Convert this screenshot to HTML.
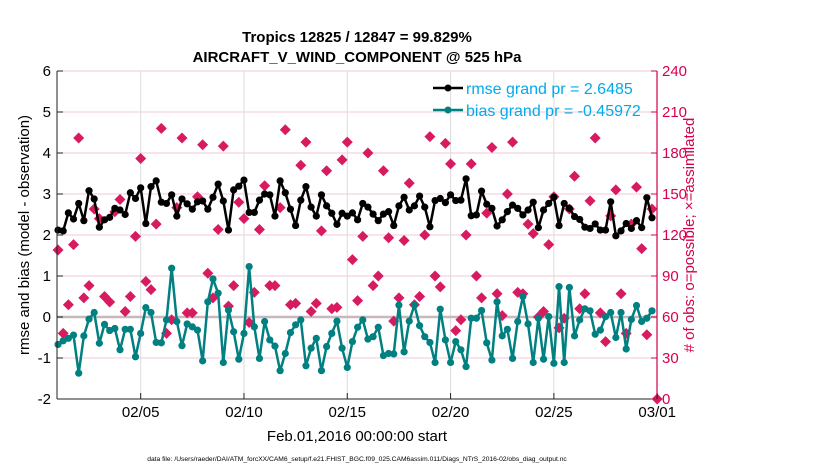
<!DOCTYPE html>
<html><head><meta charset="utf-8"><style>
body{margin:0;background:#fff}
svg{display:block;font-family:"Liberation Sans",Arial,sans-serif}
</style></head><body>
<svg id="chart" width="830" height="470" viewBox="0 0 830 470">
<rect width="830" height="470" fill="#fff"/>
<g id="grid"></g><g id="series"></g><g id="axes"></g>
<text x="357" y="42" text-anchor="middle" font-size="15" font-weight="bold">Tropics 12825 / 12847 = 99.829%</text>
<text x="357" y="62" text-anchor="middle" font-size="15" font-weight="bold">AIRCRAFT_V_WIND_COMPONENT @ 525 hPa</text>
<text x="357" y="441" text-anchor="middle" font-size="15">Feb.01,2016 00:00:00 start</text>
<text x="357" y="461" text-anchor="middle" font-size="6.7">data file: /Users/raeder/DAI/ATM_forcXX/CAM6_setup/f.e21.FHIST_BGC.f09_025.CAM6assim.011/Diags_NTrS_2016-02/obs_diag_output.nc</text>
<text transform="translate(29,235) rotate(-90)" text-anchor="middle" font-size="15">rmse and bias (model - observation)</text>
<text transform="translate(694,235) rotate(-90)" text-anchor="middle" font-size="15" fill="#d6004f"># of obs: o=possible; ×=assimilated</text>
<g>
<line x1="433" y1="88" x2="463" y2="88" stroke="#000" stroke-width="2.5"/><circle cx="448" cy="88" r="3.5" fill="#000"/>
<text x="466" y="94" font-size="16" fill="#00aaee">rmse grand pr = 2.6485</text>
<line x1="433" y1="110" x2="463" y2="110" stroke="#008080" stroke-width="2.5"/><circle cx="448" cy="110" r="3.5" fill="#008080"/>
<text x="466" y="116" font-size="16" fill="#00aaee">bias grand pr = -0.45972</text>
</g>
</svg>
<script>
const rmse=[2.12,2.10,2.54,2.39,2.77,2.35,3.08,2.88,2.19,2.37,2.43,2.65,2.61,2.50,3.03,2.89,3.15,2.28,3.18,3.32,2.80,2.77,2.98,2.46,2.88,2.76,2.63,2.81,2.83,2.63,2.92,3.24,2.83,2.12,3.10,3.19,3.34,2.55,2.55,2.85,3.00,
2.98,2.46,3.32,3.03,2.63,2.23,2.85,3.18,2.68,2.46,2.98,2.71,2.53,2.26,2.53,2.46,2.54,2.37,2.77,2.68,2.51,2.35,2.51,2.57,2.23,2.71,2.92,2.61,2.71,2.95,2.68,2.20,2.84,2.89,2.79,2.98,2.84,
2.85,3.37,2.47,2.49,3.07,2.75,2.65,2.22,2.37,2.57,2.73,2.65,2.49,2.61,2.80,2.18,2.61,2.77,2.92,2.23,2.77,2.65,2.45,2.38,2.19,2.16,2.27,2.12,2.12,2.81,1.98,2.10,2.28,2.16,2.35,2.18,2.91,2.42];
const bias=[-0.67,-0.58,-0.52,-0.44,-1.37,-0.46,-0.05,0.11,-0.64,-0.18,-0.33,-0.28,-0.80,-0.30,-0.30,-0.97,-0.40,0.23,0.11,-0.62,-0.63,-0.07,1.19,-0.11,-0.70,-0.17,-0.24,-0.32,-1.07,0.37,0.93,0.58,-1.11,0.17,-0.36,-1.03,-0.40,1.23,-0.24,-1.01,-0.11,
-0.56,-0.71,-1.31,-0.89,-0.38,-0.19,-0.07,-1.19,-0.76,-0.52,-1.31,-0.72,-0.40,-0.10,-0.76,-1.23,-0.60,-0.25,-0.07,-0.54,-0.48,-0.25,-0.94,-0.89,-0.90,0.29,-0.85,-0.10,0.29,-0.21,-0.48,-0.62,-1.11,0.19,-0.56,-1.11,-0.60,
-0.80,-1.21,-0.03,-0.03,0.16,-0.63,-1.05,0.37,-0.46,-0.30,-1.01,-0.11,0.50,-0.17,-1.11,-0.03,-1.03,0.01,-1.13,0.74,-1.11,0.72,-0.46,-0.07,0.20,0.15,-0.42,-0.32,0.01,0.11,-0.50,0.11,-0.78,-0.06,0.28,-0.11,-0.03,0.15];
const nobs=[109,48,69,113,191,74,83,139,132,75,71,137,146,64,75,119,176,86,80,128,198,48,58,140,191,63,63,148,186,92,74,124,185,68,83,144,132,56,78,124,156,
83,83,140,197,69,70,171,188,64,70,123,167,66,67,175,188,102,72,119,180,83,90,167,118,57,74,116,158,69,75,120,192,90,82,187,172,50,
58,120,172,90,74,136,184,77,61,150,188,78,77,128,121,60,64,113,148,52,59,139,163,66,77,145,191,63,42,134,153,77,48,128,155,110,47,139,0];
const xTickDays=[4,9,14,19,24,29];
const xTickLabels=["02/05","02/10","02/15","02/20","02/25","03/01"];
const yTicks=[-2,-1,0,1,2,3,4,5,6];
const y2Ticks=[0,30,60,90,120,150,180,210,240];
const stepDays=0.25;

const L=57,R=657,T=71,B=399,NS="http://www.w3.org/2000/svg";
const xS=d=>L+(d+0.05)*20.66;
const yS=v=>B-(v+2)/8*(B-T);
const y2S=v=>B-v/240*(B-T);
function mk(tag,attrs,parent){const e=document.createElementNS(NS,tag);for(const k in attrs)e.setAttribute(k,attrs[k]);parent.appendChild(e);return e;}
const grid=document.getElementById('grid'),ser=document.getElementById('series'),ax=document.getElementById('axes');
yTicks.forEach(v=>{const l=mk('line',{x1:L,x2:R,y1:yS(v),y2:yS(v),stroke:'#f2c9d8','stroke-width':1},grid);

});
xTickDays.forEach(d=>{const l=mk('line',{x1:xS(d),x2:xS(d),y1:T,y2:B,stroke:'#dcdcdc','stroke-width':1},grid);

});
const z=mk('line',{x1:L,x2:R,y1:yS(0),y2:yS(0),stroke:'#c8b8bc','stroke-width':2.5},grid);


nobs.forEach((v,i)=>{const x=xS(i*stepDays),y=y2S(v);
const p=mk('path',{d:`M${x} ${y-5.5}L${x+5.5} ${y}L${x} ${y+5.5}L${x-5.5} ${y}Z`,fill:'#d81b60'},ser);

});
function line(arr,col,name){
const pts=arr.map((v,i)=>xS(i*stepDays)+','+yS(v)).join(' ');
const pl=mk('polyline',{points:pts,fill:'none',stroke:col,'stroke-width':2.5,'stroke-linejoin':'round'},ser);


arr.forEach((v,i)=>{const c=mk('circle',{cx:xS(i*stepDays),cy:yS(v),r:3.6,fill:col},ser);

});}
line(rmse,'#000','rmse');
line(bias,'#008080','bias');
mk('line',{x1:L,x2:L,y1:T,y2:B,stroke:'#222','stroke-width':1},ax);
mk('line',{x1:L,x2:R,y1:B,y2:B,stroke:'#222','stroke-width':1},ax);
mk('line',{x1:R,x2:R,y1:T,y2:B,stroke:'#d6004f','stroke-width':1.2},ax);
yTicks.forEach(v=>{mk('line',{x1:L,x2:L+6,y1:yS(v),y2:yS(v),stroke:'#222'},ax);
const t=mk('text',{x:L-6,y:yS(v)+5,'text-anchor':'end','font-size':15},ax);t.textContent=v;

});
y2Ticks.forEach(v=>{mk('line',{x1:R-6,x2:R,y1:y2S(v),y2:y2S(v),stroke:'#d6004f'},ax);
const t=mk('text',{x:R+5,y:y2S(v)+5,'font-size':15,fill:'#d6004f'},ax);t.textContent=v;

});
xTickDays.forEach((d,i)=>{mk('line',{x1:xS(d),x2:xS(d),y1:B,y2:B-6,stroke:'#222'},ax);
const t=mk('text',{x:xS(d),y:B+18,'text-anchor':'middle','font-size':15},ax);t.textContent=xTickLabels[i];

});
</script>
</body></html>
